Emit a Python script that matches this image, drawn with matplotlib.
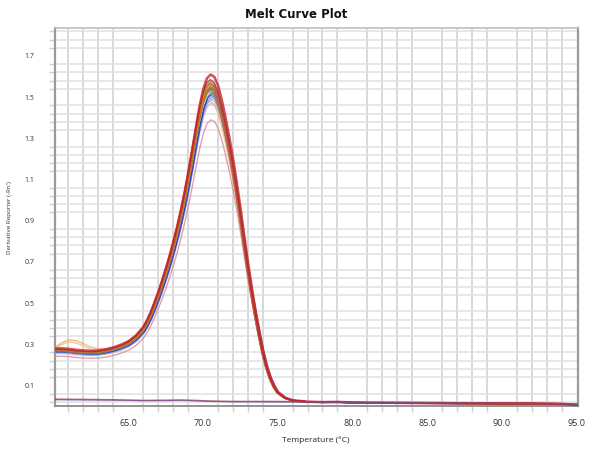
import numpy as np
import matplotlib
matplotlib.use("Agg")
import matplotlib.pyplot as plt
from matplotlib.ticker import MultipleLocator, FixedLocator

# temperature grid of the exported derivative data (degC)
temps = [60.1, 60.5, 61.0, 61.5, 62.0, 62.5, 63.0, 63.5, 64.0, 64.5, 65.0, 65.5,
         66.0, 66.25, 66.5, 66.75, 67.0, 67.25, 67.5, 67.75, 68.0, 68.25, 68.5,
         68.75, 69.0, 69.25, 69.5, 69.75, 70.0, 70.25, 70.5, 70.75, 71.0, 71.25,
         71.5, 71.75, 72.0, 72.25, 72.5, 72.75, 73.0, 73.25, 73.5, 73.75, 74.0,
         74.25, 74.5, 74.75, 75.0, 75.5, 76.0, 77.0, 78.0, 79.0, 80.0, 82.0,
         85.0, 88.0, 90.0, 92.0, 94.0, 95.0]

# -Rn' of the highest well (peak ~1.61 at 70.5 degC)
profile = [0.280, 0.280, 0.278, 0.273, 0.270, 0.268, 0.270, 0.276, 0.285, 0.298,
           0.315, 0.343, 0.385, 0.418, 0.458, 0.505, 0.555, 0.610, 0.668, 0.730,
           0.798, 0.870, 0.950, 1.038, 1.135, 1.240, 1.350, 1.455, 1.540, 1.592,
           1.610, 1.598, 1.555, 1.485, 1.400, 1.305, 1.200, 1.085, 0.958, 0.825,
           0.695, 0.575, 0.465, 0.365, 0.272, 0.197, 0.140, 0.098, 0.068, 0.040,
           0.028, 0.021, 0.019, 0.020, 0.017, 0.016, 0.014, 0.013, 0.012, 0.012,
           0.010, 0.006]

# a few wells carry a small shoulder below 64 degC
shoulder_head = [0.300, 0.322, 0.338, 0.334, 0.318, 0.300, 0.292, 0.292, 0.298]

# per-well melt peak height and Tm offset
well_peaks = [1.39, 1.47, 1.48, 1.49, 1.50, 1.51, 1.52, 1.525, 1.53, 1.535,
              1.54, 1.545, 1.55, 1.555, 1.56, 1.565, 1.57, 1.575, 1.585, 1.61]
well_tm_shift = [0.05, 0.04, -0.02, 0.06, 0.08, 0.05, 0.10, -0.04, 0.02, -0.06,
                 0.03, -0.03, 0.00, 0.04, -0.05, 0.01, -0.07, 0.03, -0.02, 0.02]
well_shoulder = [0, 0, 1, 0, 0, 0, 0, 0, 1, 0, 0, 0, 0, 0, 0, 0, 0, 0, 0, 0]

# no-template controls
ntc_temps = [60.1, 62.0, 64.0, 66.0, 67.5, 68.5, 69.5, 70.5, 72.0, 75.0, 78.0,
             80.0, 85.0, 90.0, 93.0, 95.0]
ntc_a = [0.033, 0.032, 0.030, 0.027, 0.028, 0.029, 0.027, 0.024, 0.022, 0.022,
         0.019, 0.018, 0.017, 0.015, 0.014, 0.010]
ntc_b = [0.030, 0.029, 0.028, 0.026, 0.026, 0.027, 0.025, 0.022, 0.020, 0.019,
         0.017, 0.016, 0.015, 0.013, 0.012, 0.008]

well_colors = ["#d98a9a", "#d7a3c8", "#f2b98a", "#9c8fe0", "#7f9ff0", "#3b5fd9",
               "#2838b8", "#4aa0a0", "#f0a860", "#d2691e", "#9a6b3b", "#8b4fb0",
               "#3d8f3d", "#b8860b", "#e58c2e", "#7a9a52", "#c05050", "#e07b20",
               "#8b2f3a", "#c8232c"]

t = np.array(temps)
base = np.array(profile)
base_shoulder = np.array(shoulder_head + profile[len(shoulder_head):])
top = max(profile)

fig = plt.figure(figsize=(5.9, 4.49), dpi=100)
ax = fig.add_axes([55 / 590, 43 / 449, 523 / 590, 378 / 449])

for peak, dt, sh, col in zip(well_peaks, well_tm_shift, well_shoulder, well_colors):
    y = (base_shoulder if sh else base) * peak / top
    lw = 1.8 if peak == top else 1.0
    ax.plot(t + dt, y, color=col, lw=lw, alpha=0.8, zorder=3)

ax.plot(ntc_temps, ntc_a, color="#a0405a", lw=1.1, alpha=0.8, zorder=3)
ax.plot(ntc_temps, ntc_b, color="#7050a0", lw=0.9, alpha=0.6, zorder=3)

ax.set_xlim(60.1, 95.1)
ax.set_ylim(0.0, 1.836)

# grid every 1 degC and every 0.04 of -Rn'
ax.xaxis.set_major_locator(FixedLocator([65, 70, 75, 80, 85, 90, 95]))
ax.xaxis.set_minor_locator(MultipleLocator(1.0))
ax.yaxis.set_major_locator(FixedLocator([0.1, 0.3, 0.5, 0.7, 0.9, 1.1, 1.3, 1.5, 1.7]))
ax.yaxis.set_minor_locator(FixedLocator(np.arange(0.02, 1.83, 0.04)))
ax.grid(which="minor", axis="x", color="#d6d6d6", lw=1.3, zorder=1)
ax.grid(which="minor", axis="y", color="#e0e0e0", lw=1.1, zorder=1)
ax.set_axisbelow(True)

ax.set_xticklabels([f"{v:.1f}" for v in [65, 70, 75, 80, 85, 90, 95]],
                   fontsize=6.5, family="Open Sans", color="#333333")
ax.set_yticklabels([f"{v:.1f}" for v in [0.1, 0.3, 0.5, 0.7, 0.9, 1.1, 1.3, 1.5, 1.7]],
                   fontsize=5, family="Open Sans", color="#333333")
ax.tick_params(axis="both", which="major", length=0)
ax.tick_params(axis="x", which="major", pad=9)
ax.tick_params(axis="y", which="major", pad=15)
ax.tick_params(axis="both", which="minor", length=4, color="#d0d0d0", width=1.0)

for side in ("left", "right"):
    ax.spines[side].set_color("#9a9a9a")
    ax.spines[side].set_linewidth(1.6)
ax.spines["bottom"].set_color("#8a8a8a")
ax.spines["bottom"].set_linewidth(1.3)
ax.spines["top"].set_color("#bdbdbd")
ax.spines["top"].set_linewidth(1.2)

fig.text(0.502, 1 - 14 / 449, "Melt Curve Plot", ha="center", va="center",
         fontsize=8.5, fontweight="bold", family="DejaVu Sans", color="#111111")
fig.text(316 / 590, 1 - 440 / 449, "Temperature (\u00b0C)", ha="center", va="center",
         fontsize=6, family="Open Sans", color="#222222")
fig.text(10 / 590, 1 - 218 / 449, "Derivative Reporter (-Rn')", ha="center",
         va="center", rotation=90, fontsize=4.5, family="Open Sans", color="#333333")

fig.savefig("out.png", dpi=100, facecolor="white")
